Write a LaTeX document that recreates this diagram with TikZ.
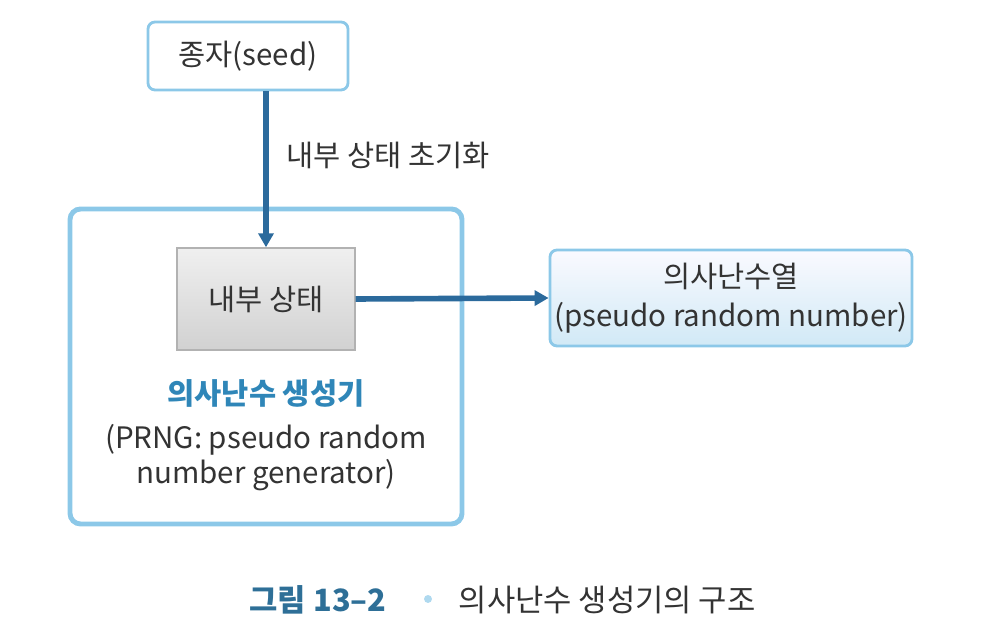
\documentclass[tikz,border=0pt]{standalone}
\usepackage{fontspec}
\setmainfont{Noto Sans CJK KR}
\usetikzlibrary{arrows.meta,positioning}
\definecolor{lineblue}{HTML}{8CC8E8}
\definecolor{arrowblue}{HTML}{2B6A9C}
\definecolor{titleblue}{HTML}{2F86B8}
\definecolor{capblue}{HTML}{2E6F97}
\definecolor{txt}{HTML}{333333}

\begin{document}
\begin{tikzpicture}[
  font=\fontsize{16.8pt}{20pt}\selectfont,
  text=txt,
  box/.style={draw=lineblue,line width=1.6pt,rounded corners=4pt,align=center,inner sep=0pt},
  statebox/.style={draw=black!30,line width=0.8pt,top color=black!6,bottom color=black!18,
    minimum width=3.56cm,minimum height=2.04cm,inner sep=0pt},
  arr/.style={-{Triangle[length=2.8mm,width=3mm]},line width=3.2pt,draw=arrowblue}
]
\useasboundingbox (0,0) rectangle (19.68,12.88);

\node[box,fill=white,minimum width=4cm,minimum height=1.36cm] (seed) at (4.96,11.76) {종자(seed)};
\node[box,line width=2.8pt,rounded corners=6pt,minimum width=7.84cm,minimum height=6.3cm] (prng) at (5.32,5.55) {};
\node[statebox] (state) at (5.32,6.9) {내부 상태};
\node[box,top color=blue!2!white,bottom color=lineblue!40,minimum width=7.24cm,minimum height=1.92cm] (out) at (14.62,6.92)
  {의사난수열\\[2pt](pseudo random number)};

\node[anchor=west] (init) at (5.6,9.78) {내부 상태 초기화};

\node[font=\fontsize{16.8pt}{20pt}\selectfont\bfseries,text=titleblue] (title) at (5.32,5.02) {의사난수 생성기};
\node[below=0.1cm of title,align=center] (full) {(PRNG: pseudo random\\[0pt]number generator)};

\draw[arr] (state.north |- seed.south) -- (state.north);
\draw[arr] (state.east) -- (out.west);

% caption
\node[font=\fontsize{17.5pt}{20pt}\selectfont\bfseries,text=capblue] (fig) at (6.36,0.88) {그림 13–2};
\node[circle,fill=lineblue!70,inner sep=1.6pt] (dot) at (8.56,0.9) {};
\node[anchor=west,font=\fontsize{17.5pt}{20pt}\selectfont] (cap) at (9.05,0.88) {의사난수 생성기의 구조};
\end{tikzpicture}
\end{document}
